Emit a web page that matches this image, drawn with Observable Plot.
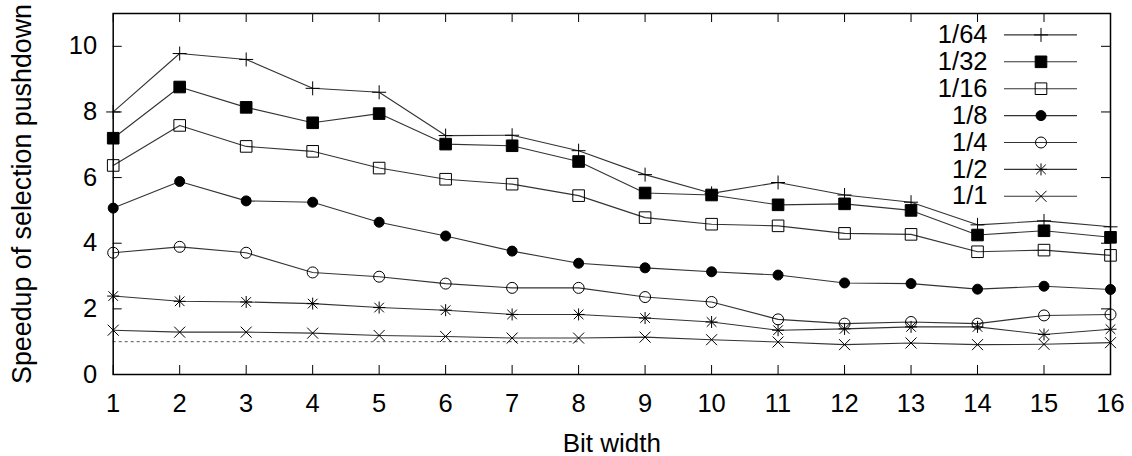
<!DOCTYPE html>
<html>
<head>
<meta charset="utf-8">
<script src="https://cdn.jsdelivr.net/npm/d3@7"></script>
<script src="https://cdn.jsdelivr.net/npm/@observablehq/plot@0.6"></script>
<style>
  body { margin: 0; background: #fff; }
  #chart { position: relative; width: 1132px; height: 456px; }
  #chart svg { position: absolute; }
</style>
</head>
<body>
<div id="chart"></div>
<script>
// Speedup of selection pushdown by bit width, one series per selectivity
const bitWidths = [1, 2, 3, 4, 5, 6, 7, 8, 9, 10, 11, 12, 13, 14, 15, 16];
const selectivities = ["1/64", "1/32", "1/16", "1/8", "1/4", "1/2", "1/1"];

const speedup_1_64 = [8.0, 9.78, 9.6, 8.72, 8.6, 7.28, 7.29, 6.82, 6.09, 5.52, 5.85, 5.47, 5.25, 4.56, 4.68, 4.5];
const speedup_1_32 = [7.2, 8.76, 8.14, 7.67, 7.95, 7.02, 6.97, 6.49, 5.53, 5.47, 5.17, 5.2, 5.0, 4.25, 4.38, 4.18];
const speedup_1_16 = [6.37, 7.59, 6.95, 6.8, 6.29, 5.95, 5.8, 5.45, 4.78, 4.58, 4.53, 4.3, 4.27, 3.74, 3.79, 3.63];
const speedup_1_8  = [5.07, 5.88, 5.29, 5.25, 4.64, 4.22, 3.76, 3.39, 3.25, 3.13, 3.03, 2.79, 2.77, 2.6, 2.69, 2.59];
const speedup_1_4  = [3.71, 3.89, 3.71, 3.11, 2.98, 2.77, 2.64, 2.64, 2.36, 2.21, 1.68, 1.55, 1.6, 1.55, 1.8, 1.83];
const speedup_1_2  = [2.39, 2.23, 2.21, 2.16, 2.04, 1.96, 1.83, 1.83, 1.72, 1.6, 1.35, 1.39, 1.45, 1.45, 1.22, 1.38];
const speedup_1_1  = [1.35, 1.29, 1.29, 1.26, 1.19, 1.16, 1.11, 1.11, 1.14, 1.06, 0.99, 0.91, 0.96, 0.91, 0.92, 0.97];

// Break-even reference (speedup 1) drawn over the first bit widths
const breakEven = 1;
const breakEvenRange = [1, 8];

const xTicks = bitWidths;
const yTicks = [0, 2, 4, 6, 8, 10];

const xTitle = "Bit width";
const yTitle = "Speedup of selection pushdown";

const seriesValues = [speedup_1_64, speedup_1_32, speedup_1_16, speedup_1_8, speedup_1_4, speedup_1_2, speedup_1_1];

const rows = selectivities.flatMap((sel, s) =>
  bitWidths.map((bits, i) => ({sel, bits, speedup: seriesValues[s][i]}))
);

// gnuplot-like point shapes; the dot radius is the half-extent of the shape
const half = (size) => Math.sqrt(size / Math.PI);
const plusShape = {draw(c, size) { const r = half(size); c.moveTo(-r, 0); c.lineTo(r, 0); c.moveTo(0, -r); c.lineTo(0, r); }};
const timesShape = {draw(c, size) { const r = half(size); c.moveTo(-r, -r); c.lineTo(r, r); c.moveTo(-r, r); c.lineTo(r, -r); }};
const starShape = {draw(c, size) {
  const r = half(size), d = r * 0.8;
  c.moveTo(-r, 0); c.lineTo(r, 0); c.moveTo(0, -r); c.lineTo(0, r);
  c.moveTo(-d, -d); c.lineTo(d, d); c.moveTo(-d, d); c.lineTo(d, -d);
}};
const squareShape = {draw(c, size) { const r = half(size); c.rect(-r, -r, 2 * r, 2 * r); }};
const circleShape = {draw(c, size) { const r = half(size); c.moveTo(r, 0); c.arc(0, 0, r, 0, 2 * Math.PI); }};

const pointStyle = {
  "1/64": {symbol: plusShape,   r: 7,   fill: "none"},
  "1/32": {symbol: squareShape, r: 5.8, fill: "black"},
  "1/16": {symbol: squareShape, r: 5.8, fill: "none"},
  "1/8":  {symbol: circleShape, r: 5,   fill: "black"},
  "1/4":  {symbol: circleShape, r: 5.5, fill: "none"},
  "1/2":  {symbol: starShape,   r: 6,   fill: "none"},
  "1/1":  {symbol: timesShape,  r: 5.5, fill: "none"}
};

const font = "'Liberation Sans', Arial, Helvetica, sans-serif";
const W = 1132, H = 456;
const mL = 112.7, mR = 22, mT = 13, mB = 82;
const plotW = W - mL - mR, plotH = H - mT - mB;
const tickLen = 9;
const lineColor = "#333";

const pointMarks = (data, xAcc, yAcc) => selectivities.map((sel) => {
  const st = pointStyle[sel];
  return Plot.dot(data.filter((d) => d.sel === sel), {
    x: xAcc, y: yAcc, symbol: st.symbol, r: st.r,
    fill: st.fill, stroke: "black", strokeWidth: 1
  });
});

const chart = Plot.plot({
  width: W, height: H,
  marginLeft: mL, marginRight: mR, marginTop: mT, marginBottom: mB,
  style: {fontFamily: font, background: "white", color: "black", overflow: "visible"},
  x: {domain: [1, 16]},
  y: {domain: [0, 11]},
  marks: [
    Plot.axisX({ticks: xTicks, tickSize: 0, tickPadding: 19, fontSize: 25.5, label: null}),
    Plot.axisY({ticks: yTicks, tickSize: 0, tickPadding: 16, fontSize: 25.5, label: null}),
    // inward ticks on all four sides
    Plot.ruleX(xTicks, {insetTop: plotH - tickLen, stroke: "black"}),
    Plot.ruleX(xTicks, {insetBottom: plotH - tickLen, stroke: "black"}),
    Plot.ruleY(yTicks, {insetRight: plotW - tickLen, stroke: "black"}),
    Plot.ruleY(yTicks, {insetLeft: plotW - tickLen, stroke: "black"}),
    Plot.ruleY([breakEven], {x1: breakEvenRange[0], x2: breakEvenRange[1], stroke: "#555", strokeDasharray: "3,3"}),
    Plot.line(rows, {x: "bits", y: "speedup", z: "sel", stroke: lineColor, strokeWidth: 1.1}),
    ...pointMarks(rows, "bits", "speedup"),
    Plot.frame({stroke: "black", strokeWidth: 1.5}),
    Plot.text([yTitle], {frameAnchor: "left", textAnchor: "middle", lineAnchor: "middle", rotate: -90, dx: -90.7, fontSize: 26.8}),
    Plot.text([xTitle], {frameAnchor: "bottom", textAnchor: "middle", lineAnchor: "top", dy: 59, fontSize: 26})
  ]
});
chart.style.left = "0px";
chart.style.top = "0px";

// Key in the upper right corner of the plot area: one row per selectivity
const legendRows = selectivities.map((sel, row) => ({sel, row}));
const legend = Plot.plot({
  width: 200, height: 188,
  margin: 0,
  style: {fontFamily: font, background: "none", color: "black", overflow: "visible"},
  x: {domain: [0, 1], range: [104, 177], axis: null},
  y: {domain: [0, selectivities.length - 1], range: [13.4, 174.8], axis: null},
  marks: [
    Plot.ruleY(legendRows, {y: "row", x1: 0, x2: 1, stroke: lineColor, strokeWidth: 1.1}),
    ...pointMarks(legendRows, () => 0.5, "row"),
    Plot.text(legendRows, {x: 0, y: "row", text: "sel", textAnchor: "end", dx: -17, fontSize: 25.5})
  ]
});
legend.style.left = "900px";
legend.style.top = "21px";

const root = document.getElementById("chart");
root.appendChild(chart);
root.appendChild(legend);
</script>
</body>
</html>
